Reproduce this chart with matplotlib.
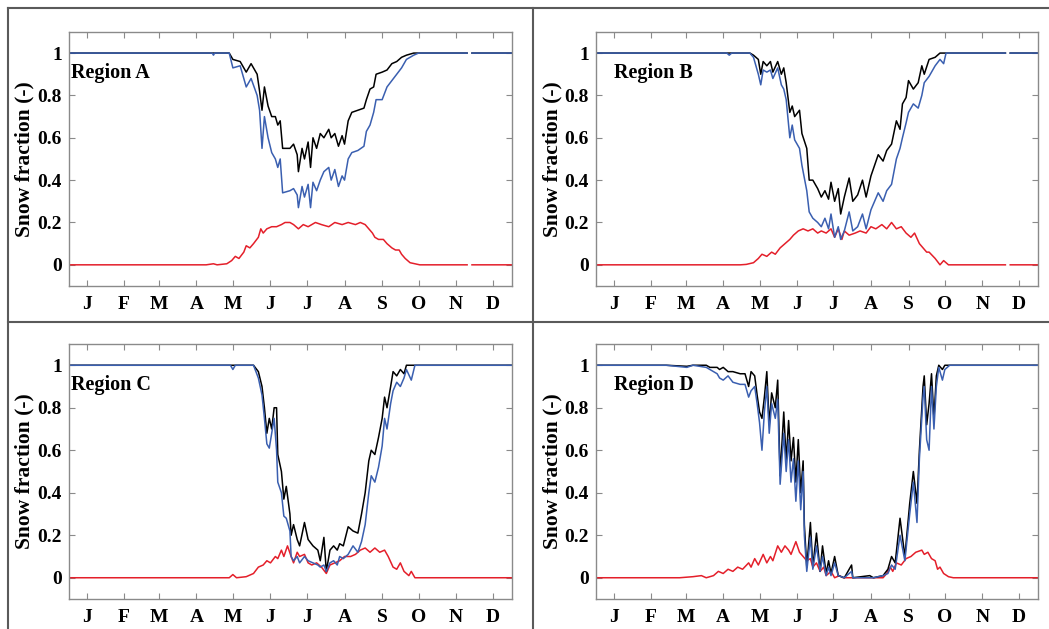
import numpy as np
import matplotlib
matplotlib.use("Agg")
import matplotlib.pyplot as plt
from matplotlib.lines import Line2D

nan = np.nan

# month labels at mid-month (day of year)
month_days = [15, 45, 74, 105, 135, 166, 196, 227, 258, 288, 319, 349]
month_labels = ["J", "F", "M", "A", "M", "J", "J", "A", "S", "O", "N", "D"]
y_ticks = [0, 0.2, 0.4, 0.6, 0.8, 1]
y_tick_labels = ["0", "0.2", "0.4", "0.6", "0.8", "1"]

# Region A
a_days = [0, 118, 119, 120, 132, 135, 141, 146, 150, 155, 157, 159, 161, 164, 167, 170, 172, 174, 176, 182,
          185, 188, 189, 192, 194, 197, 199, 201, 204, 207, 210, 214, 216, 219, 222, 225, 227, 230, 233, 238,
          243, 245, 248, 251, 253, 258, 262, 266, 270, 274, 278, 284, 288, 328, 330, 332, 365]
a_black = [1, 1, 1, 1, 1, 0.97, 0.96, 0.91, 0.95, 0.90, 0.82, 0.73, 0.84, 0.75, 0.70, 0.70, 0.66, 0.68, 0.55, 0.55,
           0.57, 0.52, 0.44, 0.55, 0.50, 0.58, 0.46, 0.60, 0.55, 0.62, 0.60, 0.64, 0.60, 0.62, 0.56, 0.61, 0.57, 0.68, 0.72, 0.73,
           0.74, 0.78, 0.83, 0.84, 0.90, 0.91, 0.92, 0.95, 0.96, 0.98, 0.99, 1.0, 1.0, 1.0, nan, 1.0, 1.0]
a_blue = [1, 1, 0.99, 1, 1, 0.93, 0.94, 0.84, 0.88, 0.80, 0.73, 0.55, 0.70, 0.60, 0.53, 0.50, 0.46, 0.50, 0.34, 0.35,
          0.36, 0.33, 0.27, 0.37, 0.32, 0.38, 0.27, 0.39, 0.35, 0.40, 0.44, 0.46, 0.40, 0.45, 0.37, 0.42, 0.40, 0.50, 0.53, 0.54,
          0.56, 0.63, 0.66, 0.72, 0.78, 0.78, 0.84, 0.87, 0.90, 0.93, 0.97, 0.99, 1.0, 1.0, nan, 1.0, 1.0]
a_red_days = [0, 113, 119, 122, 130, 134, 137, 140, 144, 146, 149, 152, 156, 158, 160, 163, 167, 171, 175, 178,
              182, 185, 189, 193, 197, 203, 208, 214, 219, 225, 230, 236, 240, 244, 247, 250, 252, 255, 259, 262,
              266, 269, 272, 274, 277, 281, 285, 289, 328, 330, 332, 365]
a_red = [0, 0, 0.005, 0, 0.005, 0.02, 0.04, 0.03, 0.06, 0.09, 0.08, 0.10, 0.13, 0.17, 0.15, 0.17, 0.18, 0.18, 0.19, 0.20,
         0.20, 0.19, 0.17, 0.19, 0.18, 0.20, 0.19, 0.18, 0.20, 0.19, 0.20, 0.19, 0.20, 0.19, 0.17, 0.15, 0.13, 0.12, 0.12, 0.10,
         0.08, 0.07, 0.07, 0.05, 0.03, 0.01, 0.005, 0, 0, nan, 0, 0]

# Region B
b_days = [0, 108, 110, 112, 127, 130, 134, 136, 138, 141, 144, 146, 150, 153, 155, 157, 160, 162, 164, 168,
          170, 174, 176, 179, 183, 186, 189, 192, 194, 197, 200, 202, 205, 209, 212, 216, 220, 223, 227, 230,
          233, 237, 240, 244, 248, 251, 253, 256, 258, 262, 266, 269, 271, 275, 280, 284, 287, 289, 338, 340, 342, 365]
b_black = [1, 1, 1, 1, 1, 0.99, 0.97, 0.90, 0.96, 0.94, 0.96, 0.91, 0.96, 0.90, 0.93, 0.86, 0.72, 0.75, 0.70, 0.73,
           0.62, 0.55, 0.40, 0.40, 0.36, 0.32, 0.35, 0.31, 0.39, 0.30, 0.36, 0.24, 0.32, 0.41, 0.30, 0.33, 0.40, 0.32, 0.42, 0.47,
           0.52, 0.49, 0.54, 0.57, 0.68, 0.64, 0.76, 0.79, 0.87, 0.83, 0.86, 0.94, 0.90, 0.97, 0.98, 1.0, 1.0, 1.0, 1.0, nan, 1.0, 1.0]
b_blue = [1, 1, 0.99, 1, 1, 0.98, 0.90, 0.85, 0.92, 0.91, 0.92, 0.88, 0.93, 0.85, 0.83, 0.78, 0.60, 0.66, 0.59, 0.55,
          0.47, 0.35, 0.25, 0.22, 0.20, 0.18, 0.22, 0.17, 0.24, 0.13, 0.18, 0.12, 0.16, 0.25, 0.16, 0.18, 0.24, 0.17, 0.26, 0.30,
          0.34, 0.30, 0.35, 0.38, 0.50, 0.55, 0.60, 0.67, 0.72, 0.76, 0.74, 0.80, 0.86, 0.89, 0.94, 0.97, 0.95, 1.0, 1.0, nan, 1.0, 1.0]
b_red_days = [0, 119, 124, 130, 134, 137, 141, 145, 148, 152, 156, 160, 163, 167, 171, 175, 179, 183, 186, 190,
              194, 197, 200, 203, 205, 209, 214, 218, 223, 227, 231, 236, 240, 244, 248, 252, 256, 260, 263, 267,
              270, 273, 275, 280, 284, 287, 291, 338, 340, 342, 365]
b_red = [0, 0, 0.002, 0.01, 0.03, 0.05, 0.04, 0.06, 0.05, 0.08, 0.10, 0.12, 0.14, 0.16, 0.17, 0.16, 0.17, 0.15, 0.16, 0.15,
         0.17, 0.13, 0.17, 0.12, 0.16, 0.14, 0.15, 0.16, 0.15, 0.18, 0.17, 0.19, 0.17, 0.20, 0.17, 0.18, 0.15, 0.13, 0.15, 0.10,
         0.08, 0.06, 0.06, 0.03, 0.0, 0.02, 0.0, 0, nan, 0, 0]

# Region C
c_days = [0, 133, 135, 137, 152, 156, 159, 161, 163, 165, 167, 169, 171, 172, 175, 177, 179, 182, 183, 185,
          188, 190, 194, 197, 201, 205, 207, 210, 212, 215, 218, 221, 223, 226, 230, 234, 238, 241, 244, 247,
          249, 252, 255, 258, 260, 262, 265, 267, 270, 273, 276, 278, 282, 285, 365]
c_black = [1, 1, 1, 1, 1, 0.97, 0.90, 0.80, 0.68, 0.75, 0.70, 0.80, 0.80, 0.58, 0.50, 0.37, 0.43, 0.30, 0.20, 0.25,
           0.18, 0.15, 0.26, 0.18, 0.15, 0.13, 0.08, 0.19, 0.03, 0.13, 0.15, 0.13, 0.16, 0.15, 0.24, 0.22, 0.21, 0.30, 0.40, 0.55,
           0.60, 0.58, 0.66, 0.75, 0.85, 0.80, 0.90, 0.97, 0.95, 0.98, 0.96, 1.0, 1.0, 1.0, 1.0]
c_blue = [1, 1, 0.98, 1, 1, 0.94, 0.86, 0.75, 0.63, 0.61, 0.68, 0.75, 0.60, 0.45, 0.40, 0.29, 0.28, 0.22, 0.10, 0.08,
          0.10, 0.07, 0.10, 0.08, 0.07, 0.06, 0.05, 0.06, 0.03, 0.07, 0.08, 0.06, 0.10, 0.09, 0.11, 0.15, 0.12, 0.17, 0.25, 0.40,
          0.48, 0.45, 0.52, 0.62, 0.75, 0.70, 0.82, 0.88, 0.92, 0.90, 0.94, 0.98, 0.93, 1.0, 1.0]
c_red_days = [0, 132, 135, 138, 146, 152, 156, 160, 163, 166, 170, 172, 175, 177, 180, 183, 185, 188, 190, 194,
              197, 200, 204, 208, 212, 215, 219, 223, 227, 232, 236, 240, 244, 248, 252, 256, 260, 263, 267, 270,
              273, 276, 280, 282, 285, 365]
c_red = [0, 0, 0.015, 0, 0.005, 0.02, 0.05, 0.06, 0.08, 0.07, 0.10, 0.09, 0.13, 0.10, 0.15, 0.10, 0.07, 0.12, 0.10, 0.11,
         0.07, 0.06, 0.07, 0.05, 0.02, 0.06, 0.07, 0.08, 0.10, 0.10, 0.11, 0.13, 0.14, 0.12, 0.14, 0.12, 0.13, 0.10, 0.05, 0.04,
         0.07, 0.03, 0.01, 0.03, 0.0, 0]

# Region D
d_days = [0, 58, 75, 80, 91, 94, 100, 102, 105, 109, 113, 119, 123, 126, 128, 131, 133, 135, 137, 139,
          141, 143, 145, 148, 150, 152, 155, 157, 159, 161, 163, 165, 167, 169, 171, 172, 174, 177, 179, 182,
          185, 187, 190, 192, 194, 197, 200, 205, 211, 212, 226, 229, 237, 241, 244, 247, 251, 255, 259, 262,
          265, 267, 270, 271, 273, 275, 277, 279, 281, 283, 286, 288, 292, 365]
d_black = [1, 1, 0.995, 1, 1, 0.99, 0.99, 0.98, 0.99, 0.97, 0.97, 0.96, 0.96, 0.90, 0.97, 0.95, 0.86, 0.78, 0.75, 0.85,
           0.97, 0.72, 0.87, 0.80, 0.93, 0.48, 0.78, 0.55, 0.74, 0.55, 0.66, 0.45, 0.65, 0.40, 0.55, 0.25, 0.05, 0.26, 0.05, 0.21,
           0.03, 0.15, 0.02, 0.08, 0.02, 0.10, 0.01, 0.0, 0.06, 0.0, 0.01, 0.0, 0.01, 0.04, 0.10, 0.07, 0.28, 0.10, 0.35, 0.50,
           0.35, 0.60, 0.90, 0.95, 0.72, 0.82, 0.96, 0.75, 0.95, 1.0, 0.98, 1.0, 1.0, 1.0]
d_blue = [1, 1, 0.99, 1, 0.99, 0.98, 0.96, 0.94, 0.93, 0.95, 0.92, 0.91, 0.91, 0.85, 0.88, 0.90, 0.82, 0.73, 0.60, 0.78,
          0.90, 0.68, 0.82, 0.75, 0.84, 0.44, 0.68, 0.50, 0.65, 0.45, 0.56, 0.36, 0.55, 0.32, 0.50, 0.20, 0.03, 0.19, 0.04, 0.15,
          0.03, 0.10, 0.01, 0.05, 0.01, 0.07, 0.01, 0.0, 0.03, 0.0, 0.0, 0.0, 0.01, 0.02, 0.06, 0.04, 0.20, 0.08, 0.30, 0.45,
          0.26, 0.56, 0.85, 0.90, 0.65, 0.60, 0.90, 0.70, 0.90, 0.99, 0.93, 0.98, 1.0, 1.0]
d_red_days = [0, 69, 80, 87, 91, 97, 101, 105, 109, 113, 117, 121, 126, 128, 131, 134, 138, 141, 144, 146,
              150, 153, 156, 159, 161, 165, 168, 171, 174, 177, 179, 182, 185, 188, 190, 194, 197, 201, 204, 237,
              240, 243, 245, 248, 252, 256, 260, 264, 269, 271, 274, 277, 280, 282, 284, 287, 291, 295, 365]
d_red = [0, 0, 0.005, 0.01, 0.0, 0.01, 0.03, 0.02, 0.04, 0.03, 0.05, 0.04, 0.07, 0.05, 0.09, 0.06, 0.11, 0.07, 0.10, 0.08,
         0.15, 0.12, 0.15, 0.13, 0.11, 0.17, 0.12, 0.10, 0.08, 0.09, 0.05, 0.07, 0.03, 0.05, 0.01, 0.03, 0.0, 0.01, 0.0, 0.0,
         0.02, 0.05, 0.03, 0.07, 0.06, 0.09, 0.10, 0.12, 0.13, 0.11, 0.12, 0.09, 0.08, 0.04, 0.05, 0.02, 0.005, 0, 0]

regions = [
    ("Region A", a_days, a_black, a_blue, a_red_days, a_red),
    ("Region B", b_days, b_black, b_blue, b_red_days, b_red),
    ("Region C", c_days, c_black, c_blue, c_red_days, c_red),
    ("Region D", d_days, d_black, d_blue, d_red_days, d_red),
]

plt.rcParams["font.family"] = ["Liberation Serif", "DejaVu Serif"]
plt.rcParams["font.weight"] = "bold"

fig = plt.figure(figsize=(10.49, 6.29), dpi=100)
fig.patch.set_facecolor("white")

# axes positions (left, bottom, width, height) in figure fraction
positions = [
    (0.0658, 0.5453, 0.4223, 0.4040),
    (0.5682, 0.5453, 0.4214, 0.4040),
    (0.0658, 0.0477, 0.4223, 0.4054),
    (0.5682, 0.0477, 0.4214, 0.4054),
]
label_x = [2, 15, 2, 15]

box_col = "#8a8a8a"
for i, (name, days, black, blue, red_days, red) in enumerate(regions):
    ax = fig.add_axes(positions[i])
    ax.plot(red_days, red, color="#e41f2a", lw=1.1)
    ax.plot(days, black, color="black", lw=1.1)
    ax.plot(days, blue, color="#3a5fb0", lw=1.1)
    ax.set_xlim(0, 365)
    ax.set_ylim(-0.1, 1.1)
    ax.set_xticks(month_days)
    ax.set_xticklabels(month_labels)
    ax.set_yticks(y_ticks)
    ax.set_yticklabels(y_tick_labels)
    ax.tick_params(direction="in", length=4, width=0.8, color=box_col,
                   top=True, right=True, labelsize=14)
    ax.tick_params(axis="x", pad=7)
    ax.tick_params(axis="y", pad=5)
    for s in ax.spines.values():
        s.set_color(box_col)
        s.set_linewidth(1.0)
    ax.set_ylabel("Snow fraction (-)", fontsize=15.5, fontweight="bold")
    ax.yaxis.set_label_coords(-0.077, 0.5)
    ax.text(label_x[i], 0.905, name, fontsize=14.5, fontweight="bold", va="center", ha="left")

# panel frame lines
frame_col = "#5a5a5a"
for xs, ys in [([0.0076, 0.0076], [0.0, 0.987]),
               ([0.0076, 1.0], [0.987, 0.987]),
               ([0.508, 0.508], [0.0, 0.987]),
               ([0.0076, 1.0], [0.488, 0.488])]:
    fig.add_artist(Line2D(xs, ys, transform=fig.transFigure, color=frame_col, lw=1.5))

fig.savefig("out.png", dpi=100)
